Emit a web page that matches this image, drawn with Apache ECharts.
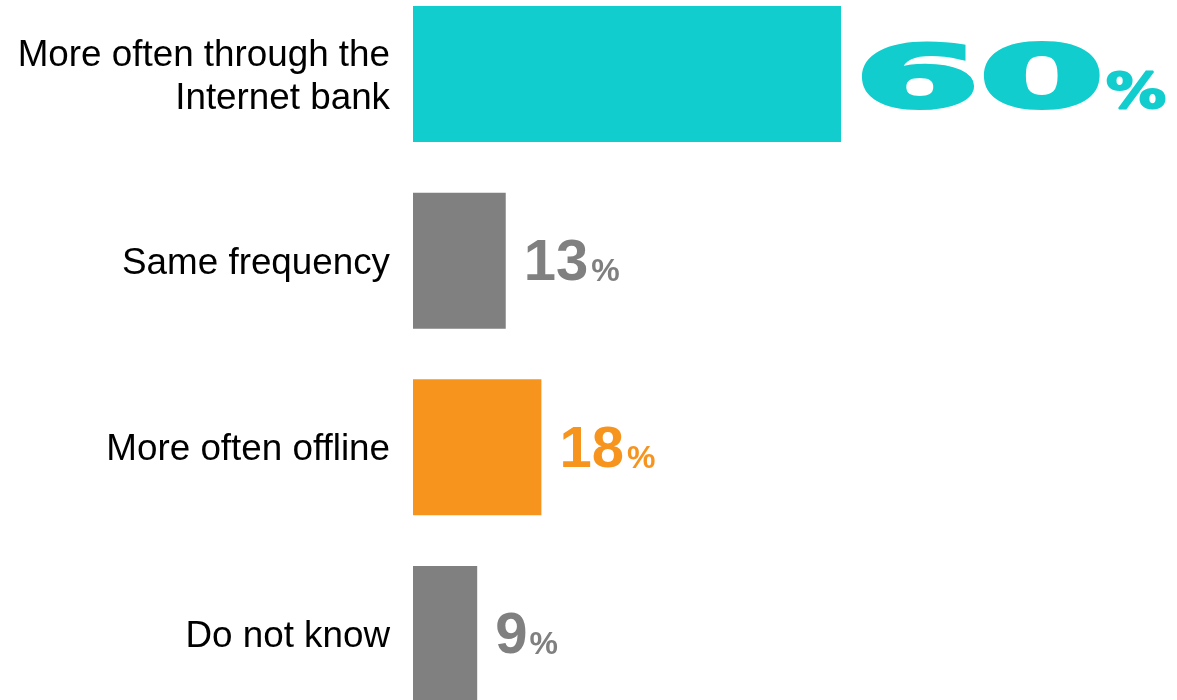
<!DOCTYPE html>
<html>
<head>
<meta charset="utf-8">
<style>
  html, body { margin: 0; padding: 0; background: #ffffff; }
  #chart { width: 1177px; height: 700px; }
</style>
<script src="https://cdn.jsdelivr.net/npm/echarts@6/dist/echarts.min.js"></script>
</head>
<body>
<div id="chart"></div>
<script>
// Survey answers and their shares (%)
const categories = [
  'More often through the\nInternet bank',
  'Same frequency',
  'More often offline',
  'Do not know'
];
const shares = [60, 13, 18, 9];

// Bar colours per answer
const barColors = ['#12CDCD', '#808080', '#F7941E', '#808080'];

const SANS = '"Liberation Sans", Arial, sans-serif';
const HEAVY = '"DejaVu Sans", Verdana, sans-serif';

// Value label styling: the leading answer gets a large, stretched figure
const labelLook = [
  { family: HEAVY, size: 86, stretch: 2.08, outline: 4, pctSize: 50, pctStretch: 1.2, pctOutline: 2, gap: 14, pctGap: 2, drop: 37 },
  { family: SANS, size: 58, stretch: 1, outline: 0, pctSize: 32, pctStretch: 1, pctOutline: 0, gap: 18, pctGap: 3, drop: 21 },
  { family: SANS, size: 58, stretch: 1, outline: 0, pctSize: 32, pctStretch: 1, pctOutline: 0, gap: 18, pctGap: 3, drop: 22 },
  { family: SANS, size: 58, stretch: 1, outline: 0, pctSize: 32, pctStretch: 1, pctOutline: 0, gap: 18, pctGap: 2, drop: 21 }
];

const measureCtx = document.createElement('canvas').getContext('2d');
function textWidth(str, size, family) {
  measureCtx.font = 'bold ' + size + 'px ' + family;
  return measureCtx.measureText(str).width;
}
// zrender draws text with a "middle" baseline; shift so the alphabetic baseline lands on y
const MID = 0.31;

const chart = echarts.init(document.getElementById('chart'), null, { renderer: 'canvas' });

chart.setOption({
  backgroundColor: '#ffffff',
  animation: false,
  grid: {
    left: 413, right: 50.67, top: -19.33, bottom: -27.33,
    containLabel: false,
    outerBoundsMode: 'none'
  },
  xAxis: {
    type: 'value', min: 0, max: 100, show: false
  },
  yAxis: {
    type: 'category',
    data: categories,
    inverse: true,
    axisLine: { show: false },
    axisTick: { show: false },
    splitLine: { show: false },
    axisLabel: {
      margin: 23,
      align: 'right',
      formatter: (name) => name.split('\n').map((line) => '{t|' + line + '}').join('\n'),
      rich: {
        t: {
          color: '#000000',
          fontFamily: SANS,
          fontSize: 36.8,
          lineHeight: 43,
          padding: [6, 0, 0, 0],
          align: 'right'
        }
      }
    }
  },
  series: [
    {
      type: 'bar',
      data: shares.map((v, i) => ({ value: v, itemStyle: { color: barColors[i] } })),
      barWidth: 136,
      silent: true
    },
    {
      type: 'custom',
      data: shares.map((v, i) => [v, i]),
      clip: false,
      silent: true,
      z: 5,
      renderItem: function (params, api) {
        const v = api.value(0);
        const idx = api.value(1);
        const look = labelLook[idx];
        const p = api.coord([v, idx]);
        const color = barColors[idx];
        const num = String(v);
        const baseline = p[1] + look.drop;
        const x0 = p[0] + look.gap;
        const numW = textWidth(num, look.size, look.family) * look.stretch;
        return {
          type: 'group',
          children: [
            {
              type: 'text',
              x: x0,
              y: baseline - MID * look.size,
              scaleX: look.stretch,
              style: {
                text: num,
                font: 'bold ' + look.size + 'px ' + look.family,
                fill: color,
                stroke: look.outline ? color : null,
                lineWidth: look.outline,
                lineJoin: 'round',
                align: 'left',
                verticalAlign: 'middle'
              }
            },
            {
              type: 'text',
              x: x0 + numW + look.pctGap,
              y: baseline - MID * look.pctSize,
              scaleX: look.pctStretch,
              style: {
                text: '%',
                font: 'bold ' + look.pctSize + 'px ' + look.family,
                fill: color,
                stroke: look.pctOutline ? color : null,
                lineWidth: look.pctOutline,
                lineJoin: 'round',
                align: 'left',
                verticalAlign: 'middle'
              }
            }
          ]
        };
      }
    }
  ]
});
</script>
</body>
</html>
